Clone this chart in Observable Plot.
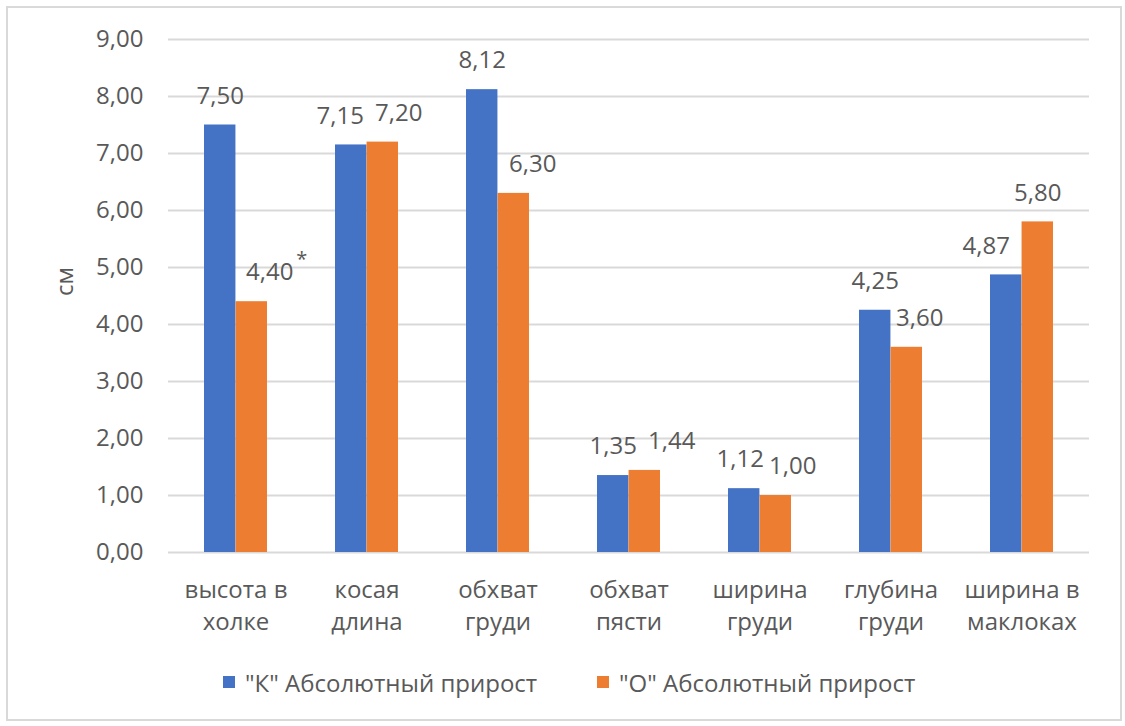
<!DOCTYPE html>
<html>
<head>
<meta charset="utf-8">
<script src="https://cdn.jsdelivr.net/npm/d3@7"></script>
<script src="https://cdn.jsdelivr.net/npm/@observablehq/plot@0.6"></script>
<style>
  html, body { margin: 0; padding: 0; background: #fff; }
  body { font-family: "Open Sans", sans-serif; }
  #wrap { position: relative; width: 1125px; height: 726px; overflow: hidden; }
  #frame { position: absolute; left: 6px; top: 6px; width: 1112px; height: 711px; border: 2px solid #d9d9d9; box-sizing: content-box; }
  #chart { position: absolute; left: 0; top: 0; }
  .leg { position: absolute; top: 667px; height: 30px; display: flex; align-items: center; font-size: 24px; color: #595959; white-space: nowrap; }
  .leg .sw { width: 12px; height: 12px; margin-right: 10px; }
</style>
</head>
<body>
<div id="wrap">
  <div id="frame"></div>
  <div id="chart"></div>
  <div class="leg" id="leg0" style="left:223px"><span class="sw"></span><span class="tx"></span></div>
  <div class="leg" id="leg1" style="left:597px"><span class="sw"></span><span class="tx"></span></div>
</div>
<script>
// ---- data ----
const categories = ["высота в холке", "косая длина", "обхват груди", "обхват пясти", "ширина груди", "глубина груди", "ширина в маклоках"];
const categoryLabels = ["высота в\nхолке", "косая\nдлина", "обхват\nгруди", "обхват\nпясти", "ширина\nгруди", "глубина\nгруди", "ширина в\nмаклоках"];
const seriesNames = ['"К" Абсолютный прирост', '"О" Абсолютный прирост'];
const valuesK = [7.50, 7.15, 8.12, 1.35, 1.12, 4.25, 4.87];
const valuesO = [4.40, 7.20, 6.30, 1.44, 1.00, 3.60, 5.80];
const notesO = ["*", "", "", "", "", "", ""];
const yTicks = [0, 1, 2, 3, 4, 5, 6, 7, 8, 9];
const yTitle = "см";

// ---- layout / style ----
const colors = ["#4472C4", "#ED7D31"];
const textColor = "#595959";
const fs = 24;
const W = 1125, H = 662;
const mL = 168, mR = 36, mT = 39, mB = H - 552;
const paddingInner = 0.52, paddingOuter = 0.26;
const step = (W - mL - mR) / categories.length;
const half = step * (1 - paddingInner) / 2;
// manual label nudges (px), as placed in the original chart
const nudgeK = [0, -11, 0, 0, -4, 0, -20];
const nudgeO = [18, 16, 19, 27, 17, 13, 0];
const fmt = v => v.toFixed(2).replace(".", ",");

const rowsK = categories.map((c, i) => ({cat: c, value: valuesK[i], i}));
const rowsO = categories.map((c, i) => ({cat: c, value: valuesO[i], note: notesO[i], i}));

const labelMarks = [];
rowsK.forEach(r => labelMarks.push(Plot.text([r], {x: "cat", y: "value", text: d => fmt(d.value), dx: -half / 2 + nudgeK[r.i], dy: -29, fill: textColor, fontSize: fs, lineAnchor: "middle"})));
rowsO.forEach(r => labelMarks.push(Plot.text([r], {x: "cat", y: "value", text: d => fmt(d.value), dx: half / 2 + nudgeO[r.i], dy: -29, fill: textColor, fontSize: fs, lineAnchor: "middle"})));
rowsO.filter(r => r.note).forEach(r => labelMarks.push(Plot.text([r], {x: "cat", y: "value", text: "note", dx: half / 2 + nudgeO[r.i] + 32, dy: -42, fill: textColor, fontSize: 20, lineAnchor: "middle"})));

const chart = Plot.plot({
  width: W,
  height: H,
  marginLeft: mL,
  marginRight: mR,
  marginTop: mT,
  marginBottom: mB,
  style: {fontFamily: "'Open Sans', sans-serif", color: textColor, background: "transparent"},
  x: {domain: categories, paddingInner, paddingOuter, axis: null},
  y: {domain: [0, 9], axis: null},
  marks: [
    Plot.ruleY(yTicks, {stroke: "#d9d9d9", strokeWidth: 2}),
    Plot.barY(rowsK, {x: "cat", y: "value", fill: colors[0], insetRight: half}),
    Plot.barY(rowsO, {x: "cat", y: "value", fill: colors[1], insetLeft: half}),
    Plot.axisY(yTicks, {tickSize: 0, tickPadding: 25, tickFormat: fmt, fontSize: fs, fill: textColor, label: null}),
    Plot.text(categories, {x: d => d, frameAnchor: "bottom", text: (d, i) => categoryLabels[i], dy: 22, lineAnchor: "top", lineHeight: 1.35, fontSize: fs, fill: textColor}),
    Plot.text([yTitle], {frameAnchor: "left", dx: -103, rotate: -90, text: d => d, fontSize: fs, fill: textColor}),
    ...labelMarks
  ]
});
document.getElementById("chart").appendChild(chart);

seriesNames.forEach((n, i) => {
  const el = document.getElementById("leg" + i);
  el.querySelector(".sw").style.background = colors[i];
  el.querySelector(".tx").textContent = n;
});
</script>
</body>
</html>
